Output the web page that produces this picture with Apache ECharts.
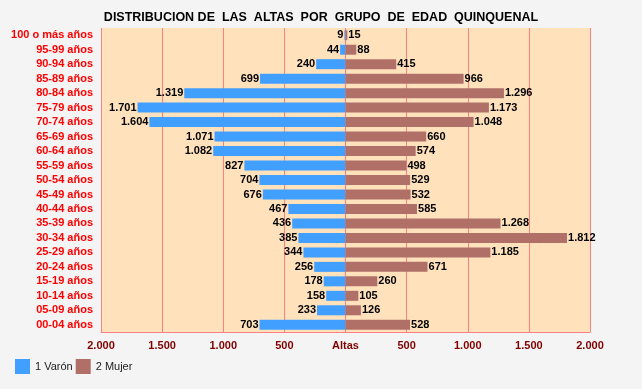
<!DOCTYPE html>
<html>
<head>
<meta charset="utf-8">
<script src="https://cdn.jsdelivr.net/npm/echarts@6/dist/echarts.min.js"></script>
<style>
  html, body { margin: 0; padding: 0; background: #f4f4f4; }
  #main { width: 642px; height: 389px; }
</style>
</head>
<body>
<div id="main"></div>
<script>
// grupos de edad, de arriba a abajo
var grupos = ['100 o más años', '95-99 años', '90-94 años', '85-89 años', '80-84 años',
  '75-79 años', '70-74 años', '65-69 años', '60-64 años', '55-59 años', '50-54 años',
  '45-49 años', '40-44 años', '35-39 años', '30-34 años', '25-29 años', '20-24 años',
  '15-19 años', '10-14 años', '05-09 años', '00-04 años'];
var varon = [9, 44, 240, 699, 1319, 1701, 1604, 1071, 1082, 827, 704, 676, 467, 436, 385, 344, 256, 178, 158, 233, 703];
var mujer = [15, 88, 415, 966, 1296, 1173, 1048, 660, 574, 498, 529, 532, 585, 1268, 1812, 1185, 671, 260, 105, 126, 528];

function miles(v) {
  v = Math.abs(v);
  return String(v).replace(/\B(?=(\d{3})+(?!\d))/g, '.');
}

var myChart = echarts.init(document.getElementById('main'));
var fuente = 'Liberation Sans, Arial, sans-serif';
var lblFont = { fontFamily: fuente, fontWeight: 'bold', fontSize: 11, color: '#000' };

myChart.setOption({
  backgroundColor: '#f4f4f4',
  animation: false,
  title: {
    text: 'DISTRIBUCION DE  LAS  ALTAS  POR  GRUPO  DE  EDAD  QUINQUENAL',
    left: 'center',
    top: 11,
    padding: 0,
    textStyle: { fontFamily: fuente, fontSize: 12.5, fontWeight: 'bold', color: '#000' }
  },
  legend: {
    left: 15,
    top: 359,
    padding: 0,
    itemWidth: 15,
    itemHeight: 15,
    itemGap: 3,
    icon: 'rect',
    textStyle: { fontFamily: fuente, fontSize: 11, color: '#222' },
    data: ['1 Varón', '2 Mujer']
  },
  grid: {
    left: 101, right: 52, top: 28, bottom: 57,
    show: true, backgroundColor: '#ffe2bc', borderWidth: 0
  },
  xAxis: {
    type: 'value',
    min: -2000, max: 2000, interval: 500,
    axisLine: { show: true, lineStyle: { color: '#ff8080' } },
    axisTick: { show: false },
    splitLine: { show: true, lineStyle: { color: '#ff8080', width: 1 } },
    axisLabel: {
      margin: 8,
      fontFamily: fuente, fontWeight: 'bold', fontSize: 11, color: '#800000',
      formatter: function (v) { return v === 0 ? 'Altas' : miles(v); }
    }
  },
  yAxis: {
    type: 'category',
    inverse: true,
    data: grupos,
    axisLine: { show: false },
    axisTick: { show: false },
    axisLabel: { interval: 0, margin: 8, fontFamily: fuente, fontWeight: 'bold', fontSize: 11, color: '#ff0000' }
  },
  series: [
    {
      name: '1 Varón',
      type: 'bar',
      barWidth: 10,
      barGap: '-100%',
      itemStyle: { color: '#409fff' },
      data: varon.map(function (v) { return -v; }),
      label: Object.assign({ show: true, position: 'left', distance: 1, formatter: function (p) { return miles(p.value); } }, lblFont)
    },
    {
      name: '2 Mujer',
      type: 'bar',
      barWidth: 10,
      itemStyle: { color: '#b07068' },
      data: mujer,
      label: Object.assign({ show: true, position: 'right', distance: 1, formatter: function (p) { return miles(p.value); } }, lblFont)
    }
  ]
});
</script>
</body>
</html>
